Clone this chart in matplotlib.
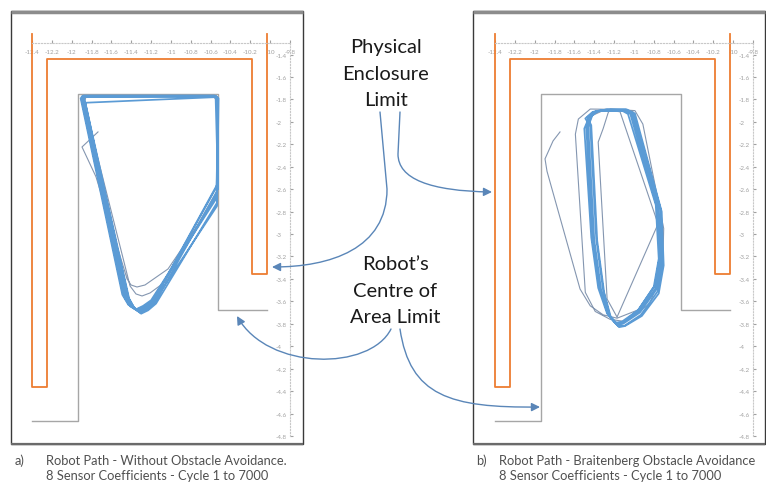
import matplotlib
matplotlib.use("Agg")
import matplotlib.pyplot as plt
from matplotlib.patches import FancyArrowPatch, Rectangle
from matplotlib.path import Path
from matplotlib.ticker import FixedLocator, FuncFormatter

plt.rcParams['axes.unicode_minus'] = False
plt.rcParams['font.family'] = ['Lato', 'DejaVu Sans']

# axis ticks (same for both runs)
x_ticks = [-12.4, -12.2, -12.0, -11.8, -11.6, -11.4, -11.2, -11.0,
           -10.8, -10.6, -10.4, -10.2, -10.0, -9.8]
y_ticks = [-4.8, -4.6, -4.4, -4.2, -4.0, -3.8, -3.6, -3.4, -3.2, -3.0,
           -2.8, -2.6, -2.4, -2.2, -2.0, -1.8, -1.6, -1.4]

# physical enclosure wall (orange) and robot centre of area limit (grey)
wall_x = [-12.40, -12.40, -12.25, -12.25, -10.18, -10.18, -10.03, -10.03]
wall_y = [-1.22, -4.36, -4.36, -1.44, -1.44, -3.36, -3.36, -1.22]
limit_x = [-12.40, -11.94, -11.94, -10.525, -10.525, -10.03]
limit_y = [-4.67, -4.67, -1.75, -1.75, -3.68, -3.68]

# run a) without obstacle avoidance - first cycles (greyish) then the rest
a_early_x = [-11.735, -11.896, -11.755, -11.442, -11.402, -11.342, -11.261, -11.029, -10.535,
             -10.535, -10.575, -11.856, -11.876, -11.412, -11.352, -11.291, -11.210,
             -11.059, -10.525]
a_early_y = [-2.090, -2.224, -2.490, -3.400, -3.454, -3.472, -3.454, -3.311, -2.670,
             -1.814, -1.770, -1.779, -1.832, -3.463, -3.534, -3.552, -3.525,
             -3.427, -2.598]
a_x = [-10.525,
       -10.55, -11.89, -11.88, -11.46, -11.40, -11.33, -11.26, -11.18, -10.535, -10.525,
       -10.55, -11.90, -11.875, -11.43, -11.37, -11.31, -11.24, -11.16, -10.535, -10.53,
       -10.56, -11.88, -11.91, -11.49, -11.43, -11.35, -11.28, -11.20, -10.54, -10.525,
       -10.55, -11.87, -11.86, -11.42, -11.36, -11.30, -11.23, -11.15, -10.535, -10.52,
       -10.55, -11.89, -11.885, -11.47, -11.41, -11.335, -11.26, -11.18, -10.54, -10.525,
       -10.56, -11.895, -11.87, -11.44, -11.38, -11.32, -11.25, -11.17, -10.535, -10.525,
       -10.55, -11.88, -11.90, -11.48, -11.42, -11.345, -11.27, -11.19, -10.535, -10.53]
a_y = [-2.598,
       -1.770, -1.770, -1.800, -3.550, -3.640, -3.680, -3.650, -3.600, -2.560, -1.800,
       -1.775, -1.775, -1.810, -3.560, -3.660, -3.700, -3.670, -3.610, -2.620, -1.790,
       -1.765, -1.765, -1.790, -3.540, -3.630, -3.670, -3.640, -3.590, -2.680, -1.800,
       -1.780, -1.830, -1.840, -3.580, -3.670, -3.710, -3.680, -3.620, -2.720, -1.790,
       -1.770, -1.772, -1.800, -3.555, -3.645, -3.685, -3.655, -3.605, -2.580, -1.800,
       -1.775, -1.775, -1.800, -3.570, -3.660, -3.690, -3.660, -3.600, -2.750, -1.790,
       -1.770, -1.770, -1.800, -3.545, -3.635, -3.675, -3.645, -3.595, -2.650, -1.800]

# run b) Braitenberg obstacle avoidance - first cycles (greyish) then the rest
b_early_x = [-11.745, -11.815, -11.896, -11.876, -11.543, -11.44, -11.31, -11.17,
             -10.94, -10.74, -10.72, -11.01, -11.10, -11.44, -11.56, -11.59,
             -11.49, -11.39, -11.24, -11.09, -10.84, -10.71, -10.70, -10.91,
             -10.99, -11.24, -11.26, -11.31, -11.36, -11.27, -11.17, -10.757,
             -11.14, -11.30, -11.46]
b_early_y = [-2.090, -2.170, -2.330, -2.440, -3.490, -3.640, -3.720, -3.750,
             -3.670, -3.400, -2.950, -1.910, -1.890, -1.886, -1.975, -2.110,
             -3.520, -3.690, -3.760, -3.780, -3.620, -3.310, -2.950, -2.020,
             -1.900, -1.886, -1.920, -2.060, -2.180, -3.580, -3.740, -2.910,
             -1.910, -1.895, -1.960]
b_x = [-11.46, -11.40, -11.30, -11.10, -11.03, -10.75, -10.72, -10.77, -10.94, -11.11, -11.17, -11.26, -11.34, -11.41, -11.47,
       -11.43, -11.37, -11.28, -11.08, -11.00, -10.73, -10.71, -10.76, -10.93, -11.10, -11.16, -11.24, -11.31, -11.38, -11.44,
       -11.49, -11.42, -11.32, -11.12, -11.06, -10.78, -10.75, -10.80, -10.96, -11.12, -11.18, -11.27, -11.36, -11.43, -11.50,
       -11.45, -11.39, -11.29, -11.09, -11.01, -10.76, -10.74, -10.79, -10.95, -11.11, -11.18, -11.25, -11.33, -11.40, -11.46,
       -11.42, -11.36, -11.27, -11.07, -10.99, -10.72, -10.70, -10.75, -10.92, -11.09, -11.15, -11.23, -11.30, -11.37, -11.43,
       -11.47, -11.41, -11.31, -11.11, -11.04, -10.77, -10.73, -10.78, -10.95, -11.12, -11.17, -11.25, -11.35, -11.42, -11.48,
       -11.46]
b_y = [-1.960, -1.910, -1.895, -1.895, -1.920, -2.760, -3.240, -3.490, -3.700, -3.800, -3.810, -3.720, -3.490, -3.040, -2.050,
       -1.950, -1.905, -1.890, -1.890, -1.930, -2.780, -3.260, -3.510, -3.720, -3.820, -3.820, -3.740, -3.500, -3.040, -2.040,
       -1.970, -1.915, -1.900, -1.900, -1.930, -2.740, -3.220, -3.470, -3.680, -3.780, -3.790, -3.710, -3.480, -3.030, -2.060,
       -1.955, -1.910, -1.900, -1.900, -1.940, -2.720, -3.200, -3.460, -3.670, -3.790, -3.800, -3.730, -3.500, -3.050, -2.040,
       -1.945, -1.900, -1.890, -1.890, -1.925, -2.800, -3.280, -3.530, -3.730, -3.820, -3.830, -3.750, -3.520, -3.060, -2.030,
       -1.960, -1.910, -1.900, -1.895, -1.920, -2.750, -3.230, -3.480, -3.690, -3.790, -3.800, -3.720, -3.480, -3.040, -2.050,
       -1.960]

blue = '#5b9bd5'
early = '#8496b0'
orange = '#ed7d31'
grey = '#a6a6a6'

fig = plt.figure(figsize=(7.66, 4.85), dpi=100)
W, H = 766.0, 485.0


def panel(left_px, ex, ey, px, py):
    ax = fig.add_axes([left_px / W, (H - 437.0) / H, 258.0 / W, 392.7 / H])
    ax.set_facecolor('none')
    ax.set_xlim(-12.4, -9.8)
    ax.set_ylim(-4.8, -1.3)
    ax.plot(wall_x, wall_y, color=orange, lw=1.3, clip_on=False, zorder=2)
    ax.plot(limit_x, limit_y, color=grey, lw=1.0, clip_on=False, zorder=2)
    ax.plot(ex, ey, color=early, lw=0.8, zorder=3)
    ax.plot(px, py, color=blue, lw=1.25, zorder=4, solid_joinstyle='round')
    for s in ['left', 'bottom']:
        ax.spines[s].set_visible(False)
    for s in ['top', 'right']:
        ax.spines[s].set_linestyle(':')
        ax.spines[s].set_color('#c8c8c8')
        ax.spines[s].set_linewidth(0.8)
    ax.xaxis.set_ticks_position('top')
    ax.yaxis.set_ticks_position('right')
    ax.xaxis.set_major_locator(FixedLocator(x_ticks))
    ax.yaxis.set_major_locator(FixedLocator(y_ticks))
    fmt = FuncFormatter(lambda v, p: '{:g}'.format(round(v, 1)))
    ax.xaxis.set_major_formatter(fmt)
    ax.yaxis.set_major_formatter(fmt)
    ax.tick_params(axis='x', direction='out', length=2, pad=-10, labelsize=4.5,
                   colors='#a0a0a0')
    ax.tick_params(axis='y', direction='out', length=2, pad=-12.5, labelsize=4.5,
                   colors='#a0a0a0')
    return ax


panel(32.0, a_early_x, a_early_y, a_x, a_y)
panel(495.0, b_early_x, b_early_y, b_x, b_y)

# overlay in pixel units for frames, labels and arrows
ov = fig.add_axes([0, 0, 1, 1], zorder=10)
ov.set_xlim(0, W)
ov.set_ylim(H, 0)
ov.axis('off')
ov.patch.set_alpha(0)

for x0 in [11, 473]:
    ov.add_patch(Rectangle((x0, 12), 292, 433, fill=False, edgecolor='#3a3a3a', lw=1.0))
    ov.plot([x0, x0 + 292], [13, 13], color='#8c8c8c', lw=2.5, solid_capstyle='butt')
    ov.plot([x0, x0 + 292], [445, 445], color='#6a6a6a', lw=1.6, solid_capstyle='butt')

txt = '#1a1a1a'
for s, yy in [('Physical', 47), ('Enclosure', 75), ('Limit', 101)]:
    ov.text(386, yy, s, ha='center', va='center', fontsize=14.5, color=txt)
for s, yy in [("Robot\u2019s", 265), ('Centre of', 291.5), ('Area Limit', 318)]:
    ov.text(395, yy, s, ha='center', va='center', fontsize=14.5, color=txt)

cap = '#505050'
ov.text(15, 461, 'a)', ha='left', va='center', fontsize=9.3, color=cap)
ov.text(46, 461, 'Robot Path - Without Obstacle Avoidance.', ha='left', va='center',
        fontsize=9.3, color=cap)
ov.text(46, 476, '8 Sensor Coefficients - Cycle 1 to 7000', ha='left', va='center',
        fontsize=9.3, color=cap)
ov.text(476, 461, 'b)', ha='left', va='center', fontsize=9.3, color=cap)
ov.text(499, 461, 'Robot Path - Braitenberg Obstacle Avoidance', ha='left', va='center',
        fontsize=9.3, color=cap)
ov.text(499, 476, '8 Sensor Coefficients - Cycle 1 to 7000', ha='left', va='center',
        fontsize=9.3, color=cap)

arrow_col = '#5a86b8'
C = Path.CURVE4
arrows = [
    ([(380, 113), (387, 190), (387, 250), (330, 268), (272, 268)],
     [Path.MOVETO, Path.LINETO, C, C, C]),
    ([(400, 113), (398, 155), (398, 180), (430, 192), (492, 193)],
     [Path.MOVETO, Path.LINETO, C, C, C]),
    ([(391, 330), (370, 372), (268, 372), (237, 317)],
     [Path.MOVETO, C, C, C]),
    ([(400, 330), (410, 397), (450, 409), (540, 408)],
     [Path.MOVETO, C, C, C]),
]
for verts, codes in arrows:
    ov.add_patch(FancyArrowPatch(path=Path(verts, codes),
                                 arrowstyle='-|>,head_length=0.5,head_width=0.25',
                                 mutation_scale=10, color=arrow_col, lw=1.0))

fig.savefig('out.png', dpi=100)
